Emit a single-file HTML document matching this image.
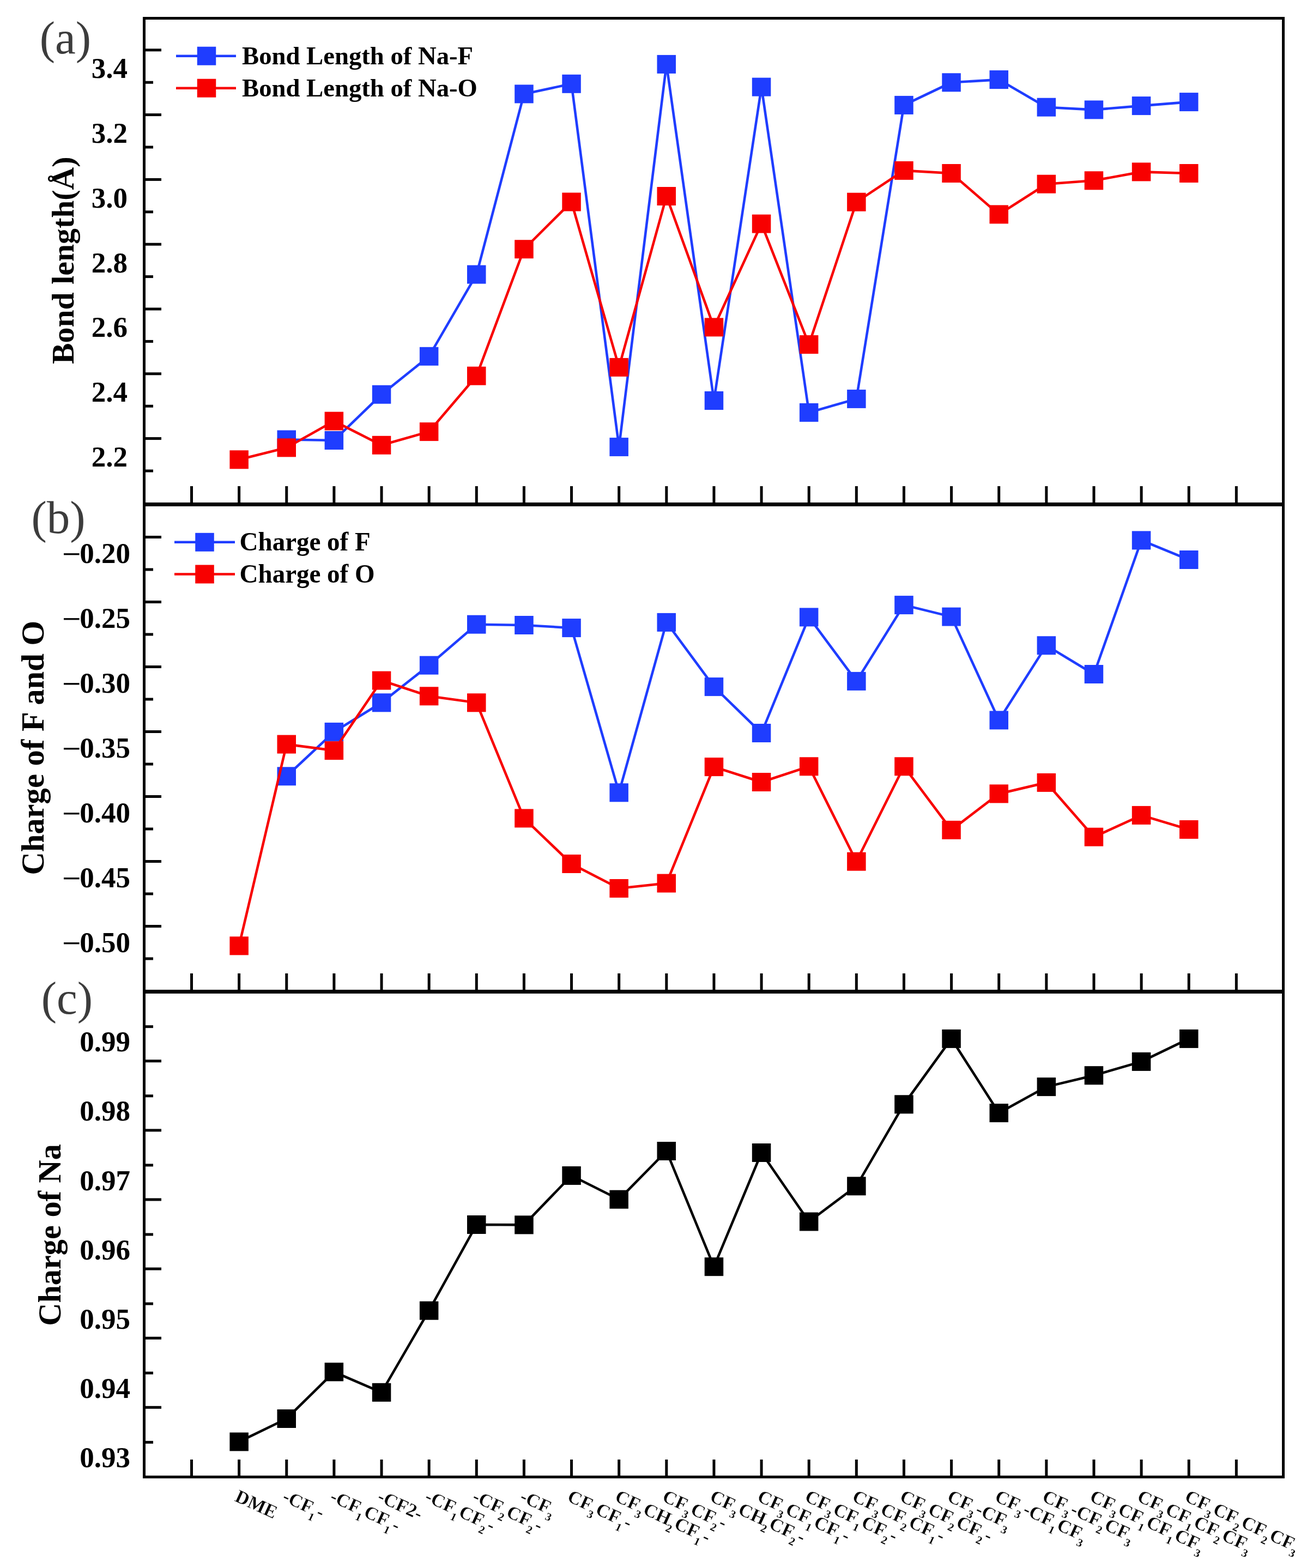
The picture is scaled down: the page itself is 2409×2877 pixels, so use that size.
<!DOCTYPE html>
<html><head><meta charset="utf-8"><title>Figure</title>
<style>html,body{margin:0;padding:0;background:#fff;width:2409px;height:2877px;overflow:hidden}svg{display:block}</style>
</head><body>
<svg width="2409" height="2877" viewBox="0 0 2409 2877" font-family="'Liberation Serif', 'Times New Roman', serif"><polyline points="525.8,806.5 612.9,808.0 700.0,723.8 787.1,653.8 874.3,503.6 961.4,172.4 1048.5,153.8 1135.7,820.1 1222.8,117.9 1309.9,735.0 1397.1,159.6 1484.2,756.9 1571.3,731.9 1658.4,192.9 1745.6,151.3 1832.7,146.1 1919.8,196.7 2007.0,201.4 2094.1,194.1 2181.2,187.1" fill="none" stroke="#1f3dff" stroke-width="4.6" stroke-linejoin="miter"/>
<rect x="508.5" y="789.5" width="34.5" height="34" fill="#1f3dff"/>
<rect x="595.6" y="791.0" width="34.5" height="34" fill="#1f3dff"/>
<rect x="682.8" y="706.8" width="34.5" height="34" fill="#1f3dff"/>
<rect x="769.9" y="636.8" width="34.5" height="34" fill="#1f3dff"/>
<rect x="857.0" y="486.6" width="34.5" height="34" fill="#1f3dff"/>
<rect x="944.2" y="155.4" width="34.5" height="34" fill="#1f3dff"/>
<rect x="1031.3" y="136.8" width="34.5" height="34" fill="#1f3dff"/>
<rect x="1118.4" y="803.1" width="34.5" height="34" fill="#1f3dff"/>
<rect x="1205.5" y="100.9" width="34.5" height="34" fill="#1f3dff"/>
<rect x="1292.7" y="718.0" width="34.5" height="34" fill="#1f3dff"/>
<rect x="1379.8" y="142.6" width="34.5" height="34" fill="#1f3dff"/>
<rect x="1466.9" y="739.9" width="34.5" height="34" fill="#1f3dff"/>
<rect x="1554.1" y="714.9" width="34.5" height="34" fill="#1f3dff"/>
<rect x="1641.2" y="175.9" width="34.5" height="34" fill="#1f3dff"/>
<rect x="1728.3" y="134.3" width="34.5" height="34" fill="#1f3dff"/>
<rect x="1815.5" y="129.1" width="34.5" height="34" fill="#1f3dff"/>
<rect x="1902.6" y="179.7" width="34.5" height="34" fill="#1f3dff"/>
<rect x="1989.7" y="184.4" width="34.5" height="34" fill="#1f3dff"/>
<rect x="2076.8" y="177.1" width="34.5" height="34" fill="#1f3dff"/>
<rect x="2164.0" y="170.1" width="34.5" height="34" fill="#1f3dff"/>
<polyline points="438.6,843.3 525.8,821.4 612.9,772.6 700.0,816.8 787.1,792.1 874.3,689.7 961.4,457.2 1048.5,370.5 1135.7,673.9 1222.8,360.0 1309.9,600.4 1397.1,410.6 1484.2,632.1 1571.3,370.7 1658.4,312.9 1745.6,318.0 1832.7,393.4 1919.8,337.7 2007.0,331.3 2094.1,315.4 2181.2,318.0" fill="none" stroke="#f80000" stroke-width="4.6" stroke-linejoin="miter"/>
<rect x="421.4" y="826.3" width="34.5" height="34" fill="#f80000"/>
<rect x="508.5" y="804.4" width="34.5" height="34" fill="#f80000"/>
<rect x="595.6" y="755.6" width="34.5" height="34" fill="#f80000"/>
<rect x="682.8" y="799.8" width="34.5" height="34" fill="#f80000"/>
<rect x="769.9" y="775.1" width="34.5" height="34" fill="#f80000"/>
<rect x="857.0" y="672.7" width="34.5" height="34" fill="#f80000"/>
<rect x="944.2" y="440.2" width="34.5" height="34" fill="#f80000"/>
<rect x="1031.3" y="353.5" width="34.5" height="34" fill="#f80000"/>
<rect x="1118.4" y="656.9" width="34.5" height="34" fill="#f80000"/>
<rect x="1205.5" y="343.0" width="34.5" height="34" fill="#f80000"/>
<rect x="1292.7" y="583.4" width="34.5" height="34" fill="#f80000"/>
<rect x="1379.8" y="393.6" width="34.5" height="34" fill="#f80000"/>
<rect x="1466.9" y="615.1" width="34.5" height="34" fill="#f80000"/>
<rect x="1554.1" y="353.7" width="34.5" height="34" fill="#f80000"/>
<rect x="1641.2" y="295.9" width="34.5" height="34" fill="#f80000"/>
<rect x="1728.3" y="301.0" width="34.5" height="34" fill="#f80000"/>
<rect x="1815.5" y="376.4" width="34.5" height="34" fill="#f80000"/>
<rect x="1902.6" y="320.7" width="34.5" height="34" fill="#f80000"/>
<rect x="1989.7" y="314.3" width="34.5" height="34" fill="#f80000"/>
<rect x="2076.8" y="298.4" width="34.5" height="34" fill="#f80000"/>
<rect x="2164.0" y="301.0" width="34.5" height="34" fill="#f80000"/>
<polyline points="525.8,1424.3 612.9,1342.9 700.0,1289.3 787.1,1220.7 874.3,1145.7 961.4,1147.0 1048.5,1152.1 1135.7,1454.3 1222.8,1141.9 1309.9,1260.1 1397.1,1345.0 1484.2,1132.4 1571.3,1249.9 1658.4,1110.1 1745.6,1131.6 1832.7,1321.4 1919.8,1184.3 2007.0,1237.0 2094.1,991.4 2181.2,1027.0" fill="none" stroke="#1f3dff" stroke-width="4.6" stroke-linejoin="miter"/>
<rect x="508.5" y="1407.3" width="34.5" height="34" fill="#1f3dff"/>
<rect x="595.6" y="1325.9" width="34.5" height="34" fill="#1f3dff"/>
<rect x="682.8" y="1272.3" width="34.5" height="34" fill="#1f3dff"/>
<rect x="769.9" y="1203.7" width="34.5" height="34" fill="#1f3dff"/>
<rect x="857.0" y="1128.7" width="34.5" height="34" fill="#1f3dff"/>
<rect x="944.2" y="1130.0" width="34.5" height="34" fill="#1f3dff"/>
<rect x="1031.3" y="1135.1" width="34.5" height="34" fill="#1f3dff"/>
<rect x="1118.4" y="1437.3" width="34.5" height="34" fill="#1f3dff"/>
<rect x="1205.5" y="1124.9" width="34.5" height="34" fill="#1f3dff"/>
<rect x="1292.7" y="1243.1" width="34.5" height="34" fill="#1f3dff"/>
<rect x="1379.8" y="1328.0" width="34.5" height="34" fill="#1f3dff"/>
<rect x="1466.9" y="1115.4" width="34.5" height="34" fill="#1f3dff"/>
<rect x="1554.1" y="1232.9" width="34.5" height="34" fill="#1f3dff"/>
<rect x="1641.2" y="1093.1" width="34.5" height="34" fill="#1f3dff"/>
<rect x="1728.3" y="1114.6" width="34.5" height="34" fill="#1f3dff"/>
<rect x="1815.5" y="1304.4" width="34.5" height="34" fill="#1f3dff"/>
<rect x="1902.6" y="1167.3" width="34.5" height="34" fill="#1f3dff"/>
<rect x="1989.7" y="1220.0" width="34.5" height="34" fill="#1f3dff"/>
<rect x="2076.8" y="974.4" width="34.5" height="34" fill="#1f3dff"/>
<rect x="2164.0" y="1010.0" width="34.5" height="34" fill="#1f3dff"/>
<polyline points="438.6,1735.4 525.8,1365.6 612.9,1377.1 700.0,1248.6 787.1,1277.3 874.3,1289.3 961.4,1501.4 1048.5,1585.0 1135.7,1630.0 1222.8,1620.6 1309.9,1407.1 1397.1,1435.0 1484.2,1406.3 1571.3,1580.7 1658.4,1406.3 1745.6,1522.9 1832.7,1456.4 1919.8,1435.9 2007.0,1535.7 2094.1,1495.9 2181.2,1522.0" fill="none" stroke="#f80000" stroke-width="4.6" stroke-linejoin="miter"/>
<rect x="421.4" y="1718.4" width="34.5" height="34" fill="#f80000"/>
<rect x="508.5" y="1348.6" width="34.5" height="34" fill="#f80000"/>
<rect x="595.6" y="1360.1" width="34.5" height="34" fill="#f80000"/>
<rect x="682.8" y="1231.6" width="34.5" height="34" fill="#f80000"/>
<rect x="769.9" y="1260.3" width="34.5" height="34" fill="#f80000"/>
<rect x="857.0" y="1272.3" width="34.5" height="34" fill="#f80000"/>
<rect x="944.2" y="1484.4" width="34.5" height="34" fill="#f80000"/>
<rect x="1031.3" y="1568.0" width="34.5" height="34" fill="#f80000"/>
<rect x="1118.4" y="1613.0" width="34.5" height="34" fill="#f80000"/>
<rect x="1205.5" y="1603.6" width="34.5" height="34" fill="#f80000"/>
<rect x="1292.7" y="1390.1" width="34.5" height="34" fill="#f80000"/>
<rect x="1379.8" y="1418.0" width="34.5" height="34" fill="#f80000"/>
<rect x="1466.9" y="1389.3" width="34.5" height="34" fill="#f80000"/>
<rect x="1554.1" y="1563.7" width="34.5" height="34" fill="#f80000"/>
<rect x="1641.2" y="1389.3" width="34.5" height="34" fill="#f80000"/>
<rect x="1728.3" y="1505.9" width="34.5" height="34" fill="#f80000"/>
<rect x="1815.5" y="1439.4" width="34.5" height="34" fill="#f80000"/>
<rect x="1902.6" y="1418.9" width="34.5" height="34" fill="#f80000"/>
<rect x="1989.7" y="1518.7" width="34.5" height="34" fill="#f80000"/>
<rect x="2076.8" y="1478.9" width="34.5" height="34" fill="#f80000"/>
<rect x="2164.0" y="1505.0" width="34.5" height="34" fill="#f80000"/>
<polyline points="438.6,2645.4 525.8,2603.0 612.9,2517.3 700.0,2554.8 787.1,2404.7 874.3,2247.0 961.4,2247.4 1048.5,2157.0 1135.7,2200.7 1222.8,2112.0 1309.9,2324.2 1397.1,2115.0 1484.2,2241.5 1571.3,2176.3 1658.4,2026.3 1745.6,1905.9 1832.7,2042.1 1919.8,1994.1 2007.0,1973.2 2094.1,1947.9 2181.2,1905.9" fill="none" stroke="#000000" stroke-width="4.6" stroke-linejoin="miter"/>
<rect x="421.4" y="2628.4" width="34.5" height="34" fill="#000000"/>
<rect x="508.5" y="2586.0" width="34.5" height="34" fill="#000000"/>
<rect x="595.6" y="2500.3" width="34.5" height="34" fill="#000000"/>
<rect x="682.8" y="2537.8" width="34.5" height="34" fill="#000000"/>
<rect x="769.9" y="2387.7" width="34.5" height="34" fill="#000000"/>
<rect x="857.0" y="2230.0" width="34.5" height="34" fill="#000000"/>
<rect x="944.2" y="2230.4" width="34.5" height="34" fill="#000000"/>
<rect x="1031.3" y="2140.0" width="34.5" height="34" fill="#000000"/>
<rect x="1118.4" y="2183.7" width="34.5" height="34" fill="#000000"/>
<rect x="1205.5" y="2095.0" width="34.5" height="34" fill="#000000"/>
<rect x="1292.7" y="2307.2" width="34.5" height="34" fill="#000000"/>
<rect x="1379.8" y="2098.0" width="34.5" height="34" fill="#000000"/>
<rect x="1466.9" y="2224.5" width="34.5" height="34" fill="#000000"/>
<rect x="1554.1" y="2159.3" width="34.5" height="34" fill="#000000"/>
<rect x="1641.2" y="2009.3" width="34.5" height="34" fill="#000000"/>
<rect x="1728.3" y="1888.9" width="34.5" height="34" fill="#000000"/>
<rect x="1815.5" y="2025.1" width="34.5" height="34" fill="#000000"/>
<rect x="1902.6" y="1977.1" width="34.5" height="34" fill="#000000"/>
<rect x="1989.7" y="1956.2" width="34.5" height="34" fill="#000000"/>
<rect x="2076.8" y="1930.9" width="34.5" height="34" fill="#000000"/>
<rect x="2164.0" y="1888.9" width="34.5" height="34" fill="#000000"/>
<line x1="264.5" y1="91.8" x2="296.0" y2="91.8" stroke="#000" stroke-width="5"/>
<line x1="264.5" y1="210.6" x2="296.0" y2="210.6" stroke="#000" stroke-width="5"/>
<line x1="264.5" y1="329.4" x2="296.0" y2="329.4" stroke="#000" stroke-width="5"/>
<line x1="264.5" y1="448.2" x2="296.0" y2="448.2" stroke="#000" stroke-width="5"/>
<line x1="264.5" y1="567.0" x2="296.0" y2="567.0" stroke="#000" stroke-width="5"/>
<line x1="264.5" y1="685.8" x2="296.0" y2="685.8" stroke="#000" stroke-width="5"/>
<line x1="264.5" y1="804.5999999999999" x2="296.0" y2="804.5999999999999" stroke="#000" stroke-width="5"/>
<line x1="264.5" y1="151.2" x2="281.0" y2="151.2" stroke="#000" stroke-width="5"/>
<line x1="264.5" y1="270.0" x2="281.0" y2="270.0" stroke="#000" stroke-width="5"/>
<line x1="264.5" y1="388.79999999999995" x2="281.0" y2="388.79999999999995" stroke="#000" stroke-width="5"/>
<line x1="264.5" y1="507.59999999999997" x2="281.0" y2="507.59999999999997" stroke="#000" stroke-width="5"/>
<line x1="264.5" y1="626.4" x2="281.0" y2="626.4" stroke="#000" stroke-width="5"/>
<line x1="264.5" y1="745.2" x2="281.0" y2="745.2" stroke="#000" stroke-width="5"/>
<line x1="264.5" y1="864.0" x2="281.0" y2="864.0" stroke="#000" stroke-width="5"/>
<line x1="264.5" y1="985.5" x2="296.0" y2="985.5" stroke="#000" stroke-width="5"/>
<line x1="264.5" y1="1104.5" x2="296.0" y2="1104.5" stroke="#000" stroke-width="5"/>
<line x1="264.5" y1="1223.5" x2="296.0" y2="1223.5" stroke="#000" stroke-width="5"/>
<line x1="264.5" y1="1342.5" x2="296.0" y2="1342.5" stroke="#000" stroke-width="5"/>
<line x1="264.5" y1="1461.5" x2="296.0" y2="1461.5" stroke="#000" stroke-width="5"/>
<line x1="264.5" y1="1580.5" x2="296.0" y2="1580.5" stroke="#000" stroke-width="5"/>
<line x1="264.5" y1="1699.5" x2="296.0" y2="1699.5" stroke="#000" stroke-width="5"/>
<line x1="264.5" y1="1045.0" x2="281.0" y2="1045.0" stroke="#000" stroke-width="5"/>
<line x1="264.5" y1="1164.0" x2="281.0" y2="1164.0" stroke="#000" stroke-width="5"/>
<line x1="264.5" y1="1283.0" x2="281.0" y2="1283.0" stroke="#000" stroke-width="5"/>
<line x1="264.5" y1="1402.0" x2="281.0" y2="1402.0" stroke="#000" stroke-width="5"/>
<line x1="264.5" y1="1521.0" x2="281.0" y2="1521.0" stroke="#000" stroke-width="5"/>
<line x1="264.5" y1="1640.0" x2="281.0" y2="1640.0" stroke="#000" stroke-width="5"/>
<line x1="264.5" y1="1759.0" x2="281.0" y2="1759.0" stroke="#000" stroke-width="5"/>
<line x1="264.5" y1="1946.8" x2="296.0" y2="1946.8" stroke="#000" stroke-width="5"/>
<line x1="264.5" y1="2073.9" x2="296.0" y2="2073.9" stroke="#000" stroke-width="5"/>
<line x1="264.5" y1="2201.0" x2="296.0" y2="2201.0" stroke="#000" stroke-width="5"/>
<line x1="264.5" y1="2328.1" x2="296.0" y2="2328.1" stroke="#000" stroke-width="5"/>
<line x1="264.5" y1="2455.2" x2="296.0" y2="2455.2" stroke="#000" stroke-width="5"/>
<line x1="264.5" y1="2582.3" x2="296.0" y2="2582.3" stroke="#000" stroke-width="5"/>
<line x1="264.5" y1="1883.7" x2="281.0" y2="1883.7" stroke="#000" stroke-width="5"/>
<line x1="264.5" y1="2010.8" x2="281.0" y2="2010.8" stroke="#000" stroke-width="5"/>
<line x1="264.5" y1="2137.9" x2="281.0" y2="2137.9" stroke="#000" stroke-width="5"/>
<line x1="264.5" y1="2265.0" x2="281.0" y2="2265.0" stroke="#000" stroke-width="5"/>
<line x1="264.5" y1="2392.1" x2="281.0" y2="2392.1" stroke="#000" stroke-width="5"/>
<line x1="264.5" y1="2519.2" x2="281.0" y2="2519.2" stroke="#000" stroke-width="5"/>
<line x1="264.5" y1="2646.3" x2="281.0" y2="2646.3" stroke="#000" stroke-width="5"/>
<line x1="351.5" y1="892.0" x2="351.5" y2="922.0" stroke="#000" stroke-width="5"/>
<line x1="438.63" y1="892.0" x2="438.63" y2="922.0" stroke="#000" stroke-width="5"/>
<line x1="525.76" y1="892.0" x2="525.76" y2="922.0" stroke="#000" stroke-width="5"/>
<line x1="612.89" y1="892.0" x2="612.89" y2="922.0" stroke="#000" stroke-width="5"/>
<line x1="700.02" y1="892.0" x2="700.02" y2="922.0" stroke="#000" stroke-width="5"/>
<line x1="787.15" y1="892.0" x2="787.15" y2="922.0" stroke="#000" stroke-width="5"/>
<line x1="874.28" y1="892.0" x2="874.28" y2="922.0" stroke="#000" stroke-width="5"/>
<line x1="961.41" y1="892.0" x2="961.41" y2="922.0" stroke="#000" stroke-width="5"/>
<line x1="1048.54" y1="892.0" x2="1048.54" y2="922.0" stroke="#000" stroke-width="5"/>
<line x1="1135.67" y1="892.0" x2="1135.67" y2="922.0" stroke="#000" stroke-width="5"/>
<line x1="1222.8" y1="892.0" x2="1222.8" y2="922.0" stroke="#000" stroke-width="5"/>
<line x1="1309.9299999999998" y1="892.0" x2="1309.9299999999998" y2="922.0" stroke="#000" stroke-width="5"/>
<line x1="1397.06" y1="892.0" x2="1397.06" y2="922.0" stroke="#000" stroke-width="5"/>
<line x1="1484.19" y1="892.0" x2="1484.19" y2="922.0" stroke="#000" stroke-width="5"/>
<line x1="1571.32" y1="892.0" x2="1571.32" y2="922.0" stroke="#000" stroke-width="5"/>
<line x1="1658.4499999999998" y1="892.0" x2="1658.4499999999998" y2="922.0" stroke="#000" stroke-width="5"/>
<line x1="1745.58" y1="892.0" x2="1745.58" y2="922.0" stroke="#000" stroke-width="5"/>
<line x1="1832.71" y1="892.0" x2="1832.71" y2="922.0" stroke="#000" stroke-width="5"/>
<line x1="1919.84" y1="892.0" x2="1919.84" y2="922.0" stroke="#000" stroke-width="5"/>
<line x1="2006.9699999999998" y1="892.0" x2="2006.9699999999998" y2="922.0" stroke="#000" stroke-width="5"/>
<line x1="2094.1" y1="892.0" x2="2094.1" y2="922.0" stroke="#000" stroke-width="5"/>
<line x1="2181.23" y1="892.0" x2="2181.23" y2="922.0" stroke="#000" stroke-width="5"/>
<line x1="2268.3599999999997" y1="892.0" x2="2268.3599999999997" y2="922.0" stroke="#000" stroke-width="5"/>
<line x1="351.5" y1="1786.0" x2="351.5" y2="1816.0" stroke="#000" stroke-width="5"/>
<line x1="438.63" y1="1786.0" x2="438.63" y2="1816.0" stroke="#000" stroke-width="5"/>
<line x1="525.76" y1="1786.0" x2="525.76" y2="1816.0" stroke="#000" stroke-width="5"/>
<line x1="612.89" y1="1786.0" x2="612.89" y2="1816.0" stroke="#000" stroke-width="5"/>
<line x1="700.02" y1="1786.0" x2="700.02" y2="1816.0" stroke="#000" stroke-width="5"/>
<line x1="787.15" y1="1786.0" x2="787.15" y2="1816.0" stroke="#000" stroke-width="5"/>
<line x1="874.28" y1="1786.0" x2="874.28" y2="1816.0" stroke="#000" stroke-width="5"/>
<line x1="961.41" y1="1786.0" x2="961.41" y2="1816.0" stroke="#000" stroke-width="5"/>
<line x1="1048.54" y1="1786.0" x2="1048.54" y2="1816.0" stroke="#000" stroke-width="5"/>
<line x1="1135.67" y1="1786.0" x2="1135.67" y2="1816.0" stroke="#000" stroke-width="5"/>
<line x1="1222.8" y1="1786.0" x2="1222.8" y2="1816.0" stroke="#000" stroke-width="5"/>
<line x1="1309.9299999999998" y1="1786.0" x2="1309.9299999999998" y2="1816.0" stroke="#000" stroke-width="5"/>
<line x1="1397.06" y1="1786.0" x2="1397.06" y2="1816.0" stroke="#000" stroke-width="5"/>
<line x1="1484.19" y1="1786.0" x2="1484.19" y2="1816.0" stroke="#000" stroke-width="5"/>
<line x1="1571.32" y1="1786.0" x2="1571.32" y2="1816.0" stroke="#000" stroke-width="5"/>
<line x1="1658.4499999999998" y1="1786.0" x2="1658.4499999999998" y2="1816.0" stroke="#000" stroke-width="5"/>
<line x1="1745.58" y1="1786.0" x2="1745.58" y2="1816.0" stroke="#000" stroke-width="5"/>
<line x1="1832.71" y1="1786.0" x2="1832.71" y2="1816.0" stroke="#000" stroke-width="5"/>
<line x1="1919.84" y1="1786.0" x2="1919.84" y2="1816.0" stroke="#000" stroke-width="5"/>
<line x1="2006.9699999999998" y1="1786.0" x2="2006.9699999999998" y2="1816.0" stroke="#000" stroke-width="5"/>
<line x1="2094.1" y1="1786.0" x2="2094.1" y2="1816.0" stroke="#000" stroke-width="5"/>
<line x1="2181.23" y1="1786.0" x2="2181.23" y2="1816.0" stroke="#000" stroke-width="5"/>
<line x1="2268.3599999999997" y1="1786.0" x2="2268.3599999999997" y2="1816.0" stroke="#000" stroke-width="5"/>
<line x1="351.5" y1="2678" x2="351.5" y2="2708" stroke="#000" stroke-width="5"/>
<line x1="438.63" y1="2678" x2="438.63" y2="2708" stroke="#000" stroke-width="5"/>
<line x1="525.76" y1="2678" x2="525.76" y2="2708" stroke="#000" stroke-width="5"/>
<line x1="612.89" y1="2678" x2="612.89" y2="2708" stroke="#000" stroke-width="5"/>
<line x1="700.02" y1="2678" x2="700.02" y2="2708" stroke="#000" stroke-width="5"/>
<line x1="787.15" y1="2678" x2="787.15" y2="2708" stroke="#000" stroke-width="5"/>
<line x1="874.28" y1="2678" x2="874.28" y2="2708" stroke="#000" stroke-width="5"/>
<line x1="961.41" y1="2678" x2="961.41" y2="2708" stroke="#000" stroke-width="5"/>
<line x1="1048.54" y1="2678" x2="1048.54" y2="2708" stroke="#000" stroke-width="5"/>
<line x1="1135.67" y1="2678" x2="1135.67" y2="2708" stroke="#000" stroke-width="5"/>
<line x1="1222.8" y1="2678" x2="1222.8" y2="2708" stroke="#000" stroke-width="5"/>
<line x1="1309.9299999999998" y1="2678" x2="1309.9299999999998" y2="2708" stroke="#000" stroke-width="5"/>
<line x1="1397.06" y1="2678" x2="1397.06" y2="2708" stroke="#000" stroke-width="5"/>
<line x1="1484.19" y1="2678" x2="1484.19" y2="2708" stroke="#000" stroke-width="5"/>
<line x1="1571.32" y1="2678" x2="1571.32" y2="2708" stroke="#000" stroke-width="5"/>
<line x1="1658.4499999999998" y1="2678" x2="1658.4499999999998" y2="2708" stroke="#000" stroke-width="5"/>
<line x1="1745.58" y1="2678" x2="1745.58" y2="2708" stroke="#000" stroke-width="5"/>
<line x1="1832.71" y1="2678" x2="1832.71" y2="2708" stroke="#000" stroke-width="5"/>
<line x1="1919.84" y1="2678" x2="1919.84" y2="2708" stroke="#000" stroke-width="5"/>
<line x1="2006.9699999999998" y1="2678" x2="2006.9699999999998" y2="2708" stroke="#000" stroke-width="5"/>
<line x1="2094.1" y1="2678" x2="2094.1" y2="2708" stroke="#000" stroke-width="5"/>
<line x1="2181.23" y1="2678" x2="2181.23" y2="2708" stroke="#000" stroke-width="5"/>
<line x1="2268.3599999999997" y1="2678" x2="2268.3599999999997" y2="2708" stroke="#000" stroke-width="5"/>
<line x1="262.0" y1="33.5" x2="2357.0" y2="33.5" stroke="#000" stroke-width="5"/>
<line x1="262.0" y1="925.5" x2="2357.0" y2="925.5" stroke="#000" stroke-width="5"/>
<line x1="264.5" y1="33.5" x2="264.5" y2="925.5" stroke="#000" stroke-width="5"/>
<line x1="2354.5" y1="33.5" x2="2354.5" y2="925.5" stroke="#000" stroke-width="5"/>
<line x1="262.0" y1="925.5" x2="2357.0" y2="925.5" stroke="#000" stroke-width="5"/>
<line x1="262.0" y1="1819.5" x2="2357.0" y2="1819.5" stroke="#000" stroke-width="5"/>
<line x1="264.5" y1="925.5" x2="264.5" y2="1819.5" stroke="#000" stroke-width="5"/>
<line x1="2354.5" y1="925.5" x2="2354.5" y2="1819.5" stroke="#000" stroke-width="5"/>
<line x1="262.0" y1="1819.5" x2="2357.0" y2="1819.5" stroke="#000" stroke-width="5"/>
<line x1="262.0" y1="2710" x2="2357.0" y2="2710" stroke="#000" stroke-width="5"/>
<line x1="264.5" y1="1819.5" x2="264.5" y2="2710" stroke="#000" stroke-width="5"/>
<line x1="2354.5" y1="1819.5" x2="2354.5" y2="2710" stroke="#000" stroke-width="5"/>
<line x1="262.0" y1="925.5" x2="2357.0" y2="925.5" stroke="#000" stroke-width="7"/>
<line x1="262.0" y1="1819.5" x2="2357.0" y2="1819.5" stroke="#000" stroke-width="7"/>
<text x="234" y="143.4" text-anchor="end" font-size="53" font-weight="bold">3.4</text>
<text x="234" y="262.1" text-anchor="end" font-size="53" font-weight="bold">3.2</text>
<text x="234" y="380.8" text-anchor="end" font-size="53" font-weight="bold">3.0</text>
<text x="234" y="499.5" text-anchor="end" font-size="53" font-weight="bold">2.8</text>
<text x="234" y="618.2" text-anchor="end" font-size="53" font-weight="bold">2.6</text>
<text x="234" y="736.9" text-anchor="end" font-size="53" font-weight="bold">2.4</text>
<text x="234" y="855.6" text-anchor="end" font-size="53" font-weight="bold">2.2</text>
<text transform="translate(116.4,1016.9) scale(1.16,1.25)" y="17.5" x="-2" font-size="53">−</text>
<text x="239" y="1033.4" text-anchor="end" font-size="53" font-weight="bold">0.20</text>
<text transform="translate(116.4,1135.9) scale(1.16,1.25)" y="17.5" x="-2" font-size="53">−</text>
<text x="239" y="1152.4" text-anchor="end" font-size="53" font-weight="bold">0.25</text>
<text transform="translate(116.4,1254.9) scale(1.16,1.25)" y="17.5" x="-2" font-size="53">−</text>
<text x="239" y="1271.4" text-anchor="end" font-size="53" font-weight="bold">0.30</text>
<text transform="translate(116.4,1373.9) scale(1.16,1.25)" y="17.5" x="-2" font-size="53">−</text>
<text x="239" y="1390.4" text-anchor="end" font-size="53" font-weight="bold">0.35</text>
<text transform="translate(116.4,1492.9) scale(1.16,1.25)" y="17.5" x="-2" font-size="53">−</text>
<text x="239" y="1509.4" text-anchor="end" font-size="53" font-weight="bold">0.40</text>
<text transform="translate(116.4,1611.9) scale(1.16,1.25)" y="17.5" x="-2" font-size="53">−</text>
<text x="239" y="1628.4" text-anchor="end" font-size="53" font-weight="bold">0.45</text>
<text transform="translate(116.4,1730.9) scale(1.16,1.25)" y="17.5" x="-2" font-size="53">−</text>
<text x="239" y="1747.4" text-anchor="end" font-size="53" font-weight="bold">0.50</text>
<text x="239" y="1929.4" text-anchor="end" font-size="53" font-weight="bold">0.99</text>
<text x="239" y="2056.4" text-anchor="end" font-size="53" font-weight="bold">0.98</text>
<text x="239" y="2183.5" text-anchor="end" font-size="53" font-weight="bold">0.97</text>
<text x="239" y="2310.5" text-anchor="end" font-size="53" font-weight="bold">0.96</text>
<text x="239" y="2437.5" text-anchor="end" font-size="53" font-weight="bold">0.95</text>
<text x="239" y="2564.5" text-anchor="end" font-size="53" font-weight="bold">0.94</text>
<text x="239" y="2691.6" text-anchor="end" font-size="53" font-weight="bold">0.93</text>
<text x="72.8" y="97.7" font-size="85" fill="#3c3c3c">(a)</text>
<text x="57.4" y="978.2" font-size="85" fill="#3c3c3c">(b)</text>
<text x="75.7" y="1859.8" font-size="85" fill="#3c3c3c">(c)</text>
<text transform="translate(135,668) rotate(-90)" font-size="57.8" font-weight="bold">Bond length(Å)</text>
<text transform="translate(80,1605.6) rotate(-90)" font-size="58.6" font-weight="bold">Charge of F and O</text>
<text transform="translate(110.5,2432.7) rotate(-90)" font-size="58.3" font-weight="bold">Charge of Na</text>
<line x1="323" y1="102.7" x2="433" y2="102.7" stroke="#1f3dff" stroke-width="4.6"/>
<rect x="361.75" y="85.7" width="34.5" height="34" fill="#1f3dff"/>
<text transform="translate(444,118.0) scale(1,1.0)" font-size="46.7" font-weight="bold">Bond Length of Na-F</text>
<line x1="323" y1="161.7" x2="433" y2="161.7" stroke="#f80000" stroke-width="4.6"/>
<rect x="361.75" y="144.7" width="34.5" height="34" fill="#f80000"/>
<text transform="translate(444,177.0) scale(1,1.0)" font-size="46.7" font-weight="bold">Bond Length of Na-O</text>
<line x1="320" y1="994.8" x2="431" y2="994.8" stroke="#1f3dff" stroke-width="4.6"/>
<rect x="358.25" y="977.8" width="34.5" height="34" fill="#1f3dff"/>
<text transform="translate(439.6,1010.4) scale(1,1.05)" font-size="47.0" font-weight="bold">Charge of F</text>
<line x1="320" y1="1053.5" x2="431" y2="1053.5" stroke="#f80000" stroke-width="4.6"/>
<rect x="358.25" y="1036.5" width="34.5" height="34" fill="#f80000"/>
<text transform="translate(439.6,1069.1) scale(1,1.05)" font-size="47.0" font-weight="bold">Charge of O</text>
<text transform="translate(429.1,2753.5) rotate(24.7)" font-size="34.5" font-weight="bold" stroke="#fff" stroke-width="0.4">DME</text>
<text transform="translate(516.3,2753.5) rotate(24.7)" font-size="34.5" font-weight="bold" stroke="#fff" stroke-width="0.4">-CF<tspan font-size="20.7" dx="-0.8" dy="11.0" stroke-width="0.1">1</tspan><tspan dx="1.4" dy="-11.0">​</tspan>-</text>
<text transform="translate(603.4,2753.5) rotate(24.7)" font-size="34.5" font-weight="bold" stroke="#fff" stroke-width="0.4">-CF<tspan font-size="20.7" dx="-0.8" dy="11.0" stroke-width="0.1">1</tspan><tspan dx="1.4" dy="-11.0">​</tspan>CF<tspan font-size="20.7" dx="-0.8" dy="11.0" stroke-width="0.1">1</tspan><tspan dx="1.4" dy="-11.0">​</tspan>-</text>
<text transform="translate(690.5,2753.5) rotate(24.7)" font-size="34.5" font-weight="bold" stroke="#fff" stroke-width="0.4">-CF2-</text>
<text transform="translate(777.6,2753.5) rotate(24.7)" font-size="34.5" font-weight="bold" stroke="#fff" stroke-width="0.4">-CF<tspan font-size="20.7" dx="-0.8" dy="11.0" stroke-width="0.1">1</tspan><tspan dx="1.4" dy="-11.0">​</tspan>CF<tspan font-size="20.7" dx="-0.8" dy="11.0" stroke-width="0.1">2</tspan><tspan dx="1.4" dy="-11.0">​</tspan>-</text>
<text transform="translate(864.8,2753.5) rotate(24.7)" font-size="34.5" font-weight="bold" stroke="#fff" stroke-width="0.4">-CF<tspan font-size="20.7" dx="-0.8" dy="11.0" stroke-width="0.1">2</tspan><tspan dx="1.4" dy="-11.0">​</tspan>CF<tspan font-size="20.7" dx="-0.8" dy="11.0" stroke-width="0.1">2</tspan><tspan dx="1.4" dy="-11.0">​</tspan>-</text>
<text transform="translate(951.9,2753.5) rotate(24.7)" font-size="34.5" font-weight="bold" stroke="#fff" stroke-width="0.4">-CF<tspan font-size="20.7" dx="-0.8" dy="11.0" stroke-width="0.1">3</tspan><tspan dx="1.4" dy="-11.0">​</tspan></text>
<text transform="translate(1039.0,2753.5) rotate(24.7)" font-size="34.5" font-weight="bold" stroke="#fff" stroke-width="0.4">CF<tspan font-size="20.7" dx="-0.8" dy="11.0" stroke-width="0.1">3</tspan><tspan dx="1.4" dy="-11.0">​</tspan>CF<tspan font-size="20.7" dx="-0.8" dy="11.0" stroke-width="0.1">1</tspan><tspan dx="1.4" dy="-11.0">​</tspan>-</text>
<text transform="translate(1126.2,2753.5) rotate(24.7)" font-size="34.5" font-weight="bold" stroke="#fff" stroke-width="0.4">CF<tspan font-size="20.7" dx="-0.8" dy="11.0" stroke-width="0.1">3</tspan><tspan dx="1.4" dy="-11.0">​</tspan>CH<tspan font-size="20.7" dx="-0.8" dy="11.0" stroke-width="0.1">2</tspan><tspan dx="1.4" dy="-11.0">​</tspan>CF<tspan font-size="20.7" dx="-0.8" dy="11.0" stroke-width="0.1">1</tspan><tspan dx="1.4" dy="-11.0">​</tspan>-</text>
<text transform="translate(1213.3,2753.5) rotate(24.7)" font-size="34.5" font-weight="bold" stroke="#fff" stroke-width="0.4">CF<tspan font-size="20.7" dx="-0.8" dy="11.0" stroke-width="0.1">3</tspan><tspan dx="1.4" dy="-11.0">​</tspan>CF<tspan font-size="20.7" dx="-0.8" dy="11.0" stroke-width="0.1">2</tspan><tspan dx="1.4" dy="-11.0">​</tspan>-</text>
<text transform="translate(1300.4,2753.5) rotate(24.7)" font-size="34.5" font-weight="bold" stroke="#fff" stroke-width="0.4">CF<tspan font-size="20.7" dx="-0.8" dy="11.0" stroke-width="0.1">3</tspan><tspan dx="1.4" dy="-11.0">​</tspan>CH<tspan font-size="20.7" dx="-0.8" dy="11.0" stroke-width="0.1">2</tspan><tspan dx="1.4" dy="-11.0">​</tspan>CF<tspan font-size="20.7" dx="-0.8" dy="11.0" stroke-width="0.1">2</tspan><tspan dx="1.4" dy="-11.0">​</tspan>-</text>
<text transform="translate(1387.6,2753.5) rotate(24.7)" font-size="34.5" font-weight="bold" stroke="#fff" stroke-width="0.4">CF<tspan font-size="20.7" dx="-0.8" dy="11.0" stroke-width="0.1">3</tspan><tspan dx="1.4" dy="-11.0">​</tspan>CF<tspan font-size="20.7" dx="-0.8" dy="11.0" stroke-width="0.1">1</tspan><tspan dx="1.4" dy="-11.0">​</tspan>CF<tspan font-size="20.7" dx="-0.8" dy="11.0" stroke-width="0.1">1</tspan><tspan dx="1.4" dy="-11.0">​</tspan>-</text>
<text transform="translate(1474.7,2753.5) rotate(24.7)" font-size="34.5" font-weight="bold" stroke="#fff" stroke-width="0.4">CF<tspan font-size="20.7" dx="-0.8" dy="11.0" stroke-width="0.1">3</tspan><tspan dx="1.4" dy="-11.0">​</tspan>CF<tspan font-size="20.7" dx="-0.8" dy="11.0" stroke-width="0.1">1</tspan><tspan dx="1.4" dy="-11.0">​</tspan>CF<tspan font-size="20.7" dx="-0.8" dy="11.0" stroke-width="0.1">2</tspan><tspan dx="1.4" dy="-11.0">​</tspan>-</text>
<text transform="translate(1561.8,2753.5) rotate(24.7)" font-size="34.5" font-weight="bold" stroke="#fff" stroke-width="0.4">CF<tspan font-size="20.7" dx="-0.8" dy="11.0" stroke-width="0.1">3</tspan><tspan dx="1.4" dy="-11.0">​</tspan>CF<tspan font-size="20.7" dx="-0.8" dy="11.0" stroke-width="0.1">2</tspan><tspan dx="1.4" dy="-11.0">​</tspan>CF<tspan font-size="20.7" dx="-0.8" dy="11.0" stroke-width="0.1">1</tspan><tspan dx="1.4" dy="-11.0">​</tspan>-</text>
<text transform="translate(1648.9,2753.5) rotate(24.7)" font-size="34.5" font-weight="bold" stroke="#fff" stroke-width="0.4">CF<tspan font-size="20.7" dx="-0.8" dy="11.0" stroke-width="0.1">3</tspan><tspan dx="1.4" dy="-11.0">​</tspan>CF<tspan font-size="20.7" dx="-0.8" dy="11.0" stroke-width="0.1">2</tspan><tspan dx="1.4" dy="-11.0">​</tspan>CF<tspan font-size="20.7" dx="-0.8" dy="11.0" stroke-width="0.1">2</tspan><tspan dx="1.4" dy="-11.0">​</tspan>-</text>
<text transform="translate(1736.1,2753.5) rotate(24.7)" font-size="34.5" font-weight="bold" stroke="#fff" stroke-width="0.4">CF<tspan font-size="20.7" dx="-0.8" dy="11.0" stroke-width="0.1">3</tspan><tspan dx="1.4" dy="-11.0">​</tspan>-CF<tspan font-size="20.7" dx="-0.8" dy="11.0" stroke-width="0.1">3</tspan><tspan dx="1.4" dy="-11.0">​</tspan></text>
<text transform="translate(1823.2,2753.5) rotate(24.7)" font-size="34.5" font-weight="bold" stroke="#fff" stroke-width="0.4">CF<tspan font-size="20.7" dx="-0.8" dy="11.0" stroke-width="0.1">3</tspan><tspan dx="1.4" dy="-11.0">​</tspan>-CF<tspan font-size="20.7" dx="-0.8" dy="11.0" stroke-width="0.1">1</tspan><tspan dx="1.4" dy="-11.0">​</tspan>CF<tspan font-size="20.7" dx="-0.8" dy="11.0" stroke-width="0.1">3</tspan><tspan dx="1.4" dy="-11.0">​</tspan></text>
<text transform="translate(1910.3,2753.5) rotate(24.7)" font-size="34.5" font-weight="bold" stroke="#fff" stroke-width="0.4">CF<tspan font-size="20.7" dx="-0.8" dy="11.0" stroke-width="0.1">3</tspan><tspan dx="1.4" dy="-11.0">​</tspan>-CF<tspan font-size="20.7" dx="-0.8" dy="11.0" stroke-width="0.1">2</tspan><tspan dx="1.4" dy="-11.0">​</tspan>CF<tspan font-size="20.7" dx="-0.8" dy="11.0" stroke-width="0.1">3</tspan><tspan dx="1.4" dy="-11.0">​</tspan></text>
<text transform="translate(1997.5,2753.5) rotate(24.7)" font-size="34.5" font-weight="bold" stroke="#fff" stroke-width="0.4">CF<tspan font-size="20.7" dx="-0.8" dy="11.0" stroke-width="0.1">3</tspan><tspan dx="1.4" dy="-11.0">​</tspan>CF<tspan font-size="20.7" dx="-0.8" dy="11.0" stroke-width="0.1">1</tspan><tspan dx="1.4" dy="-11.0">​</tspan>CF<tspan font-size="20.7" dx="-0.8" dy="11.0" stroke-width="0.1">1</tspan><tspan dx="1.4" dy="-11.0">​</tspan>CF<tspan font-size="20.7" dx="-0.8" dy="11.0" stroke-width="0.1">3</tspan><tspan dx="1.4" dy="-11.0">​</tspan></text>
<text transform="translate(2084.6,2753.5) rotate(24.7)" font-size="34.5" font-weight="bold" stroke="#fff" stroke-width="0.4">CF<tspan font-size="20.7" dx="-0.8" dy="11.0" stroke-width="0.1">3</tspan><tspan dx="1.4" dy="-11.0">​</tspan>CF<tspan font-size="20.7" dx="-0.8" dy="11.0" stroke-width="0.1">1</tspan><tspan dx="1.4" dy="-11.0">​</tspan>CF<tspan font-size="20.7" dx="-0.8" dy="11.0" stroke-width="0.1">2</tspan><tspan dx="1.4" dy="-11.0">​</tspan>CF<tspan font-size="20.7" dx="-0.8" dy="11.0" stroke-width="0.1">3</tspan><tspan dx="1.4" dy="-11.0">​</tspan></text>
<text transform="translate(2171.7,2753.5) rotate(24.7)" font-size="34.5" font-weight="bold" stroke="#fff" stroke-width="0.4">CF<tspan font-size="20.7" dx="-0.8" dy="11.0" stroke-width="0.1">3</tspan><tspan dx="1.4" dy="-11.0">​</tspan>CF<tspan font-size="20.7" dx="-0.8" dy="11.0" stroke-width="0.1">2</tspan><tspan dx="1.4" dy="-11.0">​</tspan>CF<tspan font-size="20.7" dx="-0.8" dy="11.0" stroke-width="0.1">2</tspan><tspan dx="1.4" dy="-11.0">​</tspan>CF<tspan font-size="20.7" dx="-0.8" dy="11.0" stroke-width="0.1">3</tspan><tspan dx="1.4" dy="-11.0">​</tspan></text></svg>
</body></html>
